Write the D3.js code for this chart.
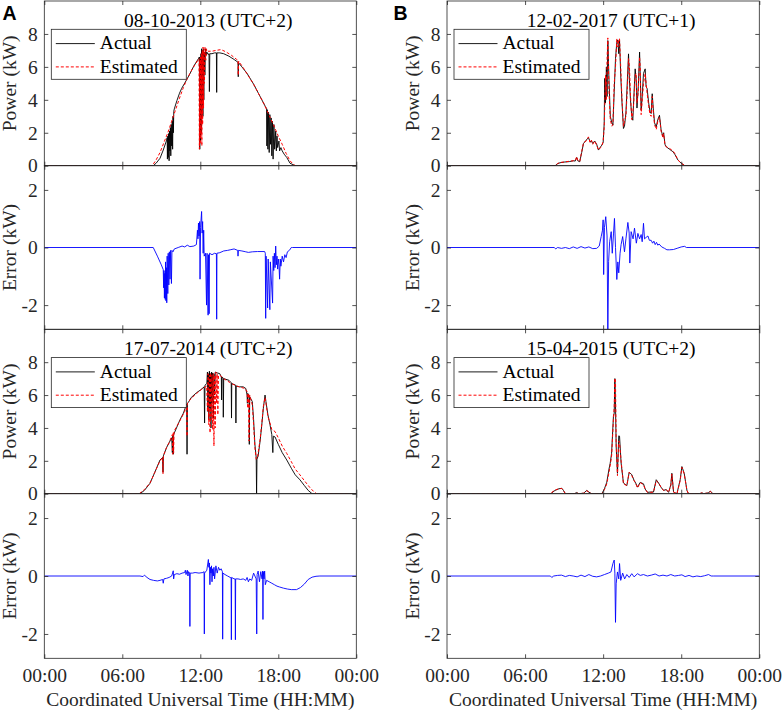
<!DOCTYPE html>
<html><head><meta charset="utf-8">
<script src="https://cdn.jsdelivr.net/npm/d3@7"></script>
<style>body{margin:0;background:#fff}svg{display:block}</style>
</head><body><svg id="c" width="782" height="711"></svg>
<script>
// ---------- data ----------
const timeTicks=[0,6,12,18,24];
const timeTickLabels=["00:00","06:00","12:00","18:00","00:00"];
const powerTicks=[0,2,4,6,8];
const errorTicks=[-2,0,2];
const titles=["08-10-2013 (UTC+2)","17-07-2014 (UTC+2)","12-02-2017 (UTC+1)","15-04-2015 (UTC+2)"];
const panelLetters=["A","B"];
const legendLabels=["Actual","Estimated"];
const xLabel="Coordinated Universal Time (HH:MM)";
const powerLabel="Power (kW)";
const errorLabel="Error (kW)";

// [hour, kW]
const actualA1=[[0,0],[8.38,0],[8.6,0.15],[8.9,0.45],[9.15,0.95],[9.41,1.55],[9.45,1.7],[9.47,0.4],[9.5,1.8],[9.53,0.5],[9.56,1.95],[9.6,0.3],[9.63,2.1],[9.66,0.9],[9.7,2.3],[9.73,0.6],[9.76,2.5],[9.8,1.2],[9.84,2.7],[9.87,1.0],[9.9,3.0],[9.93,2.0],[9.96,3.3],[10.0,3.45],[10.2,3.95],[10.4,4.4],[10.57,4.7],[10.9,5.15],[11.2,5.58],[11.5,6.05],[11.85,6.49],[11.93,6.6],[11.96,1.0],[11.99,6.6],[12.02,1.5],[12.05,6.8],[12.08,2.0],[12.1,7.1],[12.13,3.5],[12.16,7.0],[12.2,3.0],[12.23,7.1],[12.27,4.0],[12.3,6.9],[12.35,5.5],[12.4,7.1],[12.45,6.7],[12.5,6.9],[12.6,6.75],[12.67,6.8],[12.7,4.5],[12.73,6.8],[12.9,6.8],[13.1,6.85],[13.24,6.85],[13.26,4.45],[13.28,6.85],[13.5,6.85],[13.8,6.8],[14.2,6.65],[14.6,6.45],[14.9,6.28],[14.92,5.4],[14.94,6.25],[15.2,6.0],[15.6,5.6],[16.1,4.95],[16.5,4.35],[17.0,3.6],[17.1,3.47],[17.12,1.2],[17.15,3.4],[17.2,1.0],[17.25,3.25],[17.3,0.8],[17.35,3.1],[17.4,1.3],[17.45,2.9],[17.5,0.6],[17.55,2.7],[17.6,0.4],[17.66,2.5],[17.72,1.0],[17.8,2.1],[17.85,0.9],[17.9,1.8],[17.95,1.1],[18.05,1.5],[18.1,0.9],[18.2,1.1],[18.3,0.9],[18.45,0.7],[18.65,0.5],[18.9,0.15],[19.3,0],[24,0]];
const estA1=[[0,0],[8.3,0],[8.6,0.35],[8.9,0.8],[9.2,1.4],[9.5,2.0],[9.8,2.7],[10.1,3.4],[10.4,4.1],[10.7,4.75],[11.0,5.3],[11.3,5.75],[11.6,6.15],[11.9,6.5],[11.93,1.0],[11.96,6.4],[11.99,1.3],[12.02,6.6],[12.05,1.8],[12.08,6.8],[12.12,1.2],[12.15,7.0],[12.18,2.5],[12.21,7.2],[12.25,3.5],[12.28,7.1],[12.32,5.0],[12.36,7.2],[12.42,6.4],[12.48,7.1],[12.6,6.95],[12.9,6.95],[13.2,7.0],[13.6,7.05],[14.0,6.9],[14.4,6.7],[14.8,6.45],[14.9,6.4],[14.92,5.5],[14.95,6.35],[15.3,5.95],[15.7,5.45],[16.1,4.95],[16.5,4.35],[16.9,3.75],[17.3,3.05],[17.7,2.35],[18.0,1.8],[18.3,1.3],[18.6,0.75],[18.9,0.3],[19.2,0.05],[19.35,0],[24,0]];
const errA1=[[0,0],[8.38,0],[8.7,-0.3],[9.0,-0.6],[9.15,-0.77],[9.18,-1.4],[9.21,-0.8],[9.24,-1.75],[9.27,-0.9],[9.3,-1.8],[9.33,-0.5],[9.36,-1.85],[9.39,-0.7],[9.42,-1.92],[9.45,-0.3],[9.5,-1.6],[9.53,-0.2],[9.58,-1.3],[9.62,-0.15],[9.67,-1.1],[9.72,-0.1],[9.78,-1.25],[9.82,-0.1],[9.9,-0.15],[10.0,-0.05],[10.3,0.0],[10.6,0.05],[10.8,0.02],[11.0,0.08],[11.2,0.03],[11.5,0.05],[11.7,0.1],[11.78,0.6],[11.82,0.3],[11.86,0.85],[11.9,0.4],[11.95,0.9],[11.98,-1.1],[12.02,0.7],[12.1,1.25],[12.14,0.5],[12.18,0.9],[12.22,-0.2],[12.26,0.6],[12.3,-0.3],[12.4,-0.2],[12.48,-2.0],[12.52,-0.2],[12.6,-2.35],[12.63,-0.25],[12.68,-2.3],[12.71,-0.2],[12.9,-0.25],[13.1,-0.2],[13.24,-0.22],[13.26,-2.49],[13.28,-0.2],[13.5,-0.18],[13.8,-0.12],[14.1,-0.1],[14.3,-0.08],[14.6,-0.05],[14.88,-0.1],[14.9,-0.3],[14.93,-0.1],[15.2,-0.12],[15.5,-0.15],[15.7,-0.17],[16.0,-0.15],[16.4,-0.14],[16.95,-0.14],[17.0,-0.2],[17.03,-2.46],[17.06,-0.3],[17.18,-2.1],[17.22,-0.4],[17.35,-2.16],[17.39,-0.5],[17.56,-1.93],[17.6,-0.3],[17.65,-0.8],[17.7,-0.2],[17.75,-0.7],[17.8,0.05],[17.85,-0.6],[17.9,-0.3],[17.95,-0.75],[18.0,-0.4],[18.05,-0.6],[18.1,-1.1],[18.15,-0.4],[18.2,-0.65],[18.3,-0.3],[18.4,-0.5],[18.5,-0.25],[18.6,-0.35],[18.7,-0.15],[18.85,-0.1],[19.0,0.0],[19.1,0],[24,0]];

const actualA2=[[0,0],[7.36,0],[7.7,0.2],[8.13,0.63],[8.5,1.3],[8.9,2.05],[9.1,2.2],[9.13,1.3],[9.16,2.3],[9.4,2.8],[9.6,3.1],[9.8,3.4],[9.85,2.5],[9.88,3.5],[9.92,2.4],[9.95,3.6],[10.44,4.5],[10.7,4.9],[10.95,5.45],[10.98,2.4],[11.01,5.5],[11.08,5.55],[11.3,5.85],[11.72,6.15],[12.0,6.3],[12.3,6.5],[12.33,4.3],[12.36,6.6],[12.5,6.7],[12.55,7.4],[12.58,5.0],[12.62,7.3],[12.66,4.5],[12.7,7.45],[12.74,5.2],[12.78,7.3],[12.82,4.0],[12.86,7.4],[12.9,5.5],[12.95,7.35],[13.0,4.6],[13.05,7.3],[13.1,6.0],[13.15,7.4],[13.3,7.35],[13.5,7.3],[13.62,7.1],[13.64,5.7],[13.66,7.1],[13.75,7.05],[13.77,4.65],[13.8,7.0],[14.2,6.9],[14.38,6.75],[14.4,4.6],[14.42,6.7],[14.72,6.6],[14.74,4.3],[14.76,6.55],[15.0,6.5],[15.3,6.5],[15.5,6.4],[15.6,6.0],[15.62,5.5],[15.65,6.1],[15.75,6.0],[15.77,3.0],[15.8,5.9],[16.0,5.6],[16.1,4.5],[16.2,3.0],[16.3,2.2],[16.33,0.0],[16.36,2.1],[16.45,2.3],[16.6,3.2],[16.72,4.1],[16.85,5.2],[16.98,6.0],[17.05,5.6],[17.2,4.8],[17.36,4.2],[17.5,3.6],[17.58,2.5],[17.62,3.5],[17.75,3.45],[18.0,3.0],[18.3,2.5],[18.65,2.05],[19.0,1.55],[19.3,1.15],[19.67,0.84],[20.0,0.5],[20.3,0.2],[20.6,0],[24,0]];
const estA2=[[0,0],[7.3,0],[7.7,0.25],[8.13,0.65],[8.5,1.3],[8.9,2.0],[9.1,2.2],[9.13,1.2],[9.16,2.3],[9.4,2.8],[9.6,3.1],[9.85,3.6],[9.88,2.4],[9.92,3.7],[9.95,2.5],[9.98,3.8],[10.44,4.45],[10.8,5.0],[10.95,5.4],[10.98,3.5],[11.01,5.5],[11.3,5.8],[11.72,6.1],[12.1,6.35],[12.49,6.55],[12.55,5.0],[12.6,7.3],[12.65,4.2],[12.7,7.2],[12.75,3.7],[12.8,7.35],[12.85,4.5],[12.9,7.2],[12.95,3.9],[13.0,7.3],[13.05,2.9],[13.1,7.2],[13.15,4.0],[13.2,7.4],[13.25,5.5],[13.3,7.3],[13.35,4.8],[13.4,7.2],[13.52,7.2],[13.8,7.0],[14.1,6.85],[14.4,6.7],[14.8,6.55],[15.2,6.45],[15.44,6.4],[15.6,6.2],[15.65,5.2],[15.7,6.1],[15.75,3.2],[15.8,6.0],[16.0,5.4],[16.1,4.2],[16.2,2.8],[16.3,2.1],[16.4,2.2],[16.6,3.3],[16.72,4.2],[16.85,5.3],[16.98,5.85],[17.05,5.5],[17.2,4.7],[17.36,4.3],[17.5,3.9],[17.75,3.78],[18.0,3.4],[18.3,2.9],[18.65,2.45],[19.0,1.95],[19.3,1.5],[19.67,1.14],[20.0,0.8],[20.4,0.4],[20.7,0.15],[20.95,0],[24,0]];
const errA2=[[0,0],[7.36,0],[7.6,-0.02],[7.7,0.03],[7.9,-0.05],[8.13,-0.12],[8.4,-0.15],[8.7,-0.17],[8.9,-0.15],[9.1,-0.12],[9.15,-0.25],[9.2,-0.1],[9.4,-0.08],[9.6,-0.05],[9.8,0.0],[9.92,0.18],[9.95,-0.1],[10.0,0.05],[10.2,0.08],[10.4,0.06],[10.6,0.1],[10.8,0.12],[10.85,0.2],[10.9,0.05],[11.0,0.2],[11.05,0.0],[11.1,0.15],[11.18,0.1],[11.2,-1.74],[11.22,0.1],[11.4,0.1],[11.6,0.12],[11.9,0.1],[12.2,0.12],[12.29,0.15],[12.31,-2.0],[12.33,0.1],[12.5,0.2],[12.62,0.57],[12.66,0.3],[12.7,0.45],[12.74,-0.3],[12.78,0.3],[12.82,0.1],[12.86,0.35],[12.9,-0.2],[12.95,0.25],[13.0,0.0],[13.05,0.3],[13.1,-0.1],[13.2,0.35],[13.3,0.1],[13.4,0.3],[13.5,0.2],[13.6,0.25],[13.7,0.15],[13.72,-2.18],[13.74,0.1],[13.9,0.05],[14.1,0.0],[14.3,-0.05],[14.37,-0.06],[14.39,-2.2],[14.41,-0.05],[14.6,-0.1],[14.68,-0.1],[14.7,-2.2],[14.72,-0.1],[14.9,-0.1],[15.1,-0.12],[15.3,-0.1],[15.5,-0.15],[15.6,-0.05],[15.7,-0.2],[15.8,-0.1],[15.95,-0.15],[16.1,0.1],[16.3,-0.1],[16.34,-2.0],[16.37,0.05],[16.45,0.17],[16.55,-0.2],[16.65,0.15],[16.75,-0.1],[16.8,0.17],[16.82,-1.5],[16.84,0.15],[16.9,-0.1],[16.95,0.17],[17.0,-0.3],[17.1,-0.15],[17.3,-0.2],[17.5,-0.25],[17.7,-0.3],[17.9,-0.35],[18.1,-0.38],[18.4,-0.42],[18.7,-0.45],[19.0,-0.47],[19.4,-0.47],[19.7,-0.4],[20.0,-0.28],[20.3,-0.12],[20.6,-0.04],[20.9,-0.01],[21.2,0],[24,0]];

const actualB1=[[0,0],[8.31,0],[8.5,0.12],[8.69,0.18],[9.0,0.22],[9.4,0.25],[9.72,0.3],[9.85,0.28],[9.97,0.5],[10.05,0.3],[10.2,0.24],[10.35,0.8],[10.49,1.35],[10.7,1.55],[10.87,1.71],[11.0,1.45],[11.1,1.5],[11.2,1.35],[11.35,1.5],[11.5,1.3],[11.64,0.95],[11.8,1.15],[11.9,1.25],[12.0,1.4],[12.08,2.56],[12.12,5.3],[12.18,3.8],[12.25,6.0],[12.3,4.2],[12.36,7.6],[12.45,5.2],[12.55,3.0],[12.67,2.6],[12.75,2.46],[12.85,4.5],[12.95,6.5],[13.05,7.5],[13.13,7.64],[13.2,6.8],[13.26,7.6],[13.35,5.5],[13.45,3.8],[13.56,2.26],[13.64,2.4],[13.75,3.2],[13.85,5.0],[13.95,6.79],[14.02,5.2],[14.1,4.0],[14.2,3.0],[14.28,2.76],[14.35,4.0],[14.46,5.88],[14.54,5.2],[14.6,3.5],[14.7,4.8],[14.8,6.9],[14.85,5.5],[14.92,3.37],[15.0,4.2],[15.1,5.6],[15.23,5.88],[15.3,4.8],[15.38,4.68],[15.5,3.8],[15.6,3.3],[15.69,3.17],[15.77,4.37],[15.85,3.5],[15.95,2.6],[16.08,2.36],[16.2,2.8],[16.33,3.06],[16.45,2.2],[16.59,1.75],[16.65,2.0],[16.75,1.3],[16.85,1.15],[17.1,1.0],[17.36,0.85],[17.5,0.7],[17.75,0.34],[18.0,0.15],[18.26,0],[24,0]];
const estB1=[[0,0],[8.28,0],[8.5,0.13],[8.69,0.2],[9.0,0.22],[9.4,0.27],[9.72,0.3],[9.85,0.3],[9.97,0.55],[10.05,0.32],[10.2,0.25],[10.35,0.85],[10.49,1.4],[10.7,1.5],[10.87,1.75],[11.0,1.4],[11.1,1.55],[11.2,1.3],[11.35,1.5],[11.5,1.25],[11.64,0.95],[11.8,1.1],[11.9,1.2],[12.0,1.5],[12.08,2.3],[12.12,3.5],[12.18,5.5],[12.25,4.0],[12.3,6.5],[12.36,7.76],[12.45,4.5],[12.55,2.8],[12.67,2.4],[12.75,2.5],[12.85,5.0],[12.95,6.0],[13.05,7.7],[13.13,7.2],[13.2,7.7],[13.26,7.7],[13.35,6.0],[13.45,4.0],[13.56,2.4],[13.64,2.7],[13.75,3.0],[13.85,4.5],[13.95,6.5],[14.02,6.0],[14.1,4.3],[14.2,2.8],[14.28,3.2],[14.35,3.8],[14.46,5.5],[14.54,5.6],[14.6,3.8],[14.7,4.5],[14.8,6.6],[14.85,6.0],[14.92,3.1],[15.0,3.9],[15.1,5.0],[15.23,5.6],[15.3,5.0],[15.38,4.4],[15.5,3.6],[15.6,3.1],[15.69,3.0],[15.77,4.2],[15.85,3.3],[15.95,2.5],[16.08,2.2],[16.2,2.7],[16.33,2.95],[16.45,2.1],[16.59,1.7],[16.65,1.95],[16.75,1.25],[16.85,1.15],[17.1,1.05],[17.36,0.9],[17.5,0.75],[17.75,0.35],[18.0,0.15],[18.3,0],[24,0]];
const errB1=[[0,0],[8.25,0],[8.35,-0.05],[8.5,0.0],[8.8,-0.03],[9.1,0.0],[9.4,-0.04],[9.7,0.02],[10.0,-0.03],[10.3,0.03],[10.6,-0.02],[10.9,0.02],[11.2,-0.04],[11.5,-0.03],[11.7,0.05],[11.85,0.38],[11.95,0.6],[12.0,0.96],[12.04,-0.94],[12.1,0.7],[12.2,1.07],[12.3,0.4],[12.36,-2.95],[12.42,-0.48],[12.5,0.2],[12.62,0.55],[12.7,-0.2],[12.8,0.5],[12.87,1.01],[12.95,0.0],[13.05,-1.11],[13.13,-0.5],[13.2,-0.88],[13.3,-0.2],[13.38,0.1],[13.5,0.38],[13.64,-0.15],[13.75,0.3],[13.9,0.87],[14.0,0.5],[14.05,-0.54],[14.15,0.55],[14.3,0.3],[14.41,0.67],[14.55,0.15],[14.67,0.49],[14.8,0.3],[14.92,0.45],[15.0,0.2],[15.1,0.84],[15.18,0.3],[15.3,0.35],[15.44,0.4],[15.55,0.25],[15.69,0.25],[15.8,0.15],[15.9,0.22],[16.0,0.1],[16.1,0.18],[16.2,0.08],[16.3,0.12],[16.5,0.02],[16.72,-0.03],[16.9,-0.08],[17.1,-0.08],[17.4,-0.07],[17.74,-0.02],[18.0,0.02],[18.26,0.04],[18.4,0.0],[24,0]];

const actualB2=[[0,0],[8.0,0],[8.05,0.05],[8.3,0.2],[8.6,0.3],[8.82,0.33],[8.95,0.2],[9.08,0.02],[9.2,0],[9.8,0],[9.97,0.07],[10.1,0],[10.5,0.03],[10.74,0.2],[10.9,0.1],[11.1,0],[11.9,0],[12.1,0.3],[12.28,0.7],[12.45,1.5],[12.54,1.85],[12.65,2.46],[12.79,4.7],[12.85,4.9],[12.9,7.0],[12.95,5.4],[13.0,2.87],[13.1,1.24],[13.2,3.52],[13.26,3.5],[13.38,1.87],[13.56,0.65],[13.82,0.49],[14.0,1.3],[14.2,1.16],[14.38,0.8],[14.5,0.65],[14.64,0.4],[14.85,0.69],[15.1,0.6],[15.23,0.28],[15.41,0.08],[15.62,0.1],[15.87,0.1],[16.08,0.85],[16.26,0.65],[16.44,0.4],[16.64,0.2],[16.85,0.25],[17.03,0.08],[17.2,0.55],[17.28,1.24],[17.41,0.1],[17.67,0.0],[17.92,0.85],[18.05,1.65],[18.23,1.24],[18.44,0.2],[18.56,0],[19.4,0],[19.6,0.05],[19.7,0],[20.1,0.05],[20.23,0.16],[20.44,0],[24,0]];
const estB2=[[0,0],[8.0,0],[8.05,0.08],[8.3,0.22],[8.6,0.3],[8.82,0.32],[8.95,0.18],[9.08,0.02],[9.2,0],[9.8,0],[9.97,0.07],[10.1,0],[10.5,0.03],[10.74,0.18],[10.9,0.1],[11.1,0],[11.9,0],[12.1,0.25],[12.28,0.6],[12.45,1.3],[12.54,1.7],[12.65,2.3],[12.79,4.5],[12.85,5.3],[12.9,7.03],[12.95,6.8],[13.0,3.1],[13.1,1.1],[13.2,3.2],[13.26,3.1],[13.38,2.0],[13.56,0.6],[13.82,0.5],[14.0,1.3],[14.2,1.1],[14.38,0.8],[14.5,0.62],[14.64,0.35],[14.85,0.67],[15.1,0.55],[15.23,0.28],[15.41,0.08],[15.62,0.08],[15.87,0.1],[16.08,0.78],[16.26,0.65],[16.44,0.4],[16.64,0.2],[16.85,0.25],[17.03,0.08],[17.2,0.5],[17.28,1.2],[17.41,0.1],[17.67,0.0],[17.92,0.8],[18.05,1.6],[18.23,1.2],[18.44,0.2],[18.56,0],[19.4,0],[19.6,0.05],[19.7,0],[20.1,0.05],[20.23,0.14],[20.44,0],[24,0]];
const errB2=[[0,0],[7.95,0],[8.05,-0.05],[8.2,0.0],[8.5,0.02],[8.8,0.03],[9.1,-0.02],[9.4,0.02],[9.7,0.0],[10.0,-0.03],[10.3,0.03],[10.6,-0.02],[10.9,0.05],[11.2,-0.01],[11.5,-0.03],[11.8,0.0],[12.1,0.05],[12.4,0.1],[12.6,0.14],[12.75,0.43],[12.85,0.55],[12.9,0.1],[12.95,-1.6],[13.0,-0.27],[13.1,0.14],[13.2,-0.1],[13.26,0.43],[13.35,-0.15],[13.5,0.1],[13.65,-0.1],[13.82,0.05],[14.0,-0.05],[14.2,0.08],[14.38,-0.03],[14.64,0.08],[14.85,0.02],[15.1,0.05],[15.4,0.0],[15.7,0.03],[16.0,0.07],[16.3,0.0],[16.6,0.03],[16.9,0.0],[17.2,0.05],[17.5,0.0],[17.8,0.02],[18.05,0.04],[18.3,-0.02],[18.6,0.02],[18.9,-0.03],[19.2,0.0],[19.5,-0.02],[19.8,0.01],[20.1,0.05],[20.3,0.0],[20.5,0],[24,0]];

// ---------- layout ----------
const FONT='"Liberation Serif","Times New Roman",serif';
const FS=19.5;
const AX='#262626';
const cols=[{l:44.3,r:356.3},{l:447,r:759.3}];
const rows=[{pt:1,pb:165.7,eb:329.3},{pt:329.3,pb:493.7,eb:658.3}];
const panels=[
 {c:0,r:0,title:titles[0],act:actualA1,est:estA1,err:errA1},
 {c:0,r:1,title:titles[1],act:actualA2,est:estA2,err:errA2},
 {c:1,r:0,title:titles[2],act:actualB1,est:estB1,err:errB1},
 {c:1,r:1,title:titles[3],act:actualB2,est:estB2,err:errB2}
];

const svg=d3.select('#c');
svg.append('rect').attr('width',782).attr('height',711).attr('fill','#fff');
const defs=svg.append('defs');
let clipId=0;

function box(g,x,y){
  const [x0,x1]=x.range(), [y0,y1]=y.range();
  g.append('rect').attr('x',x0).attr('y',y1).attr('width',x1-x0).attr('height',y0-y1)
   .attr('fill','none').attr('stroke',AX).attr('stroke-width',0.8);
}
function axes(g,x,y,yTicks,showX){
  const [x0,x1]=x.range(), [y0,y1]=y.range();
  const bottom=g.append('g').attr('transform',`translate(0,${y0})`)
    .call(d3.axisBottom(x).tickValues(timeTicks).tickSizeInner(-4).tickSizeOuter(0).tickPadding(9.4)
      .tickFormat((d,i)=>showX?timeTickLabels[i]:''));
  const top=g.append('g').attr('transform',`translate(0,${y1})`)
    .call(d3.axisTop(x).tickValues(timeTicks).tickSizeInner(-4).tickSizeOuter(0).tickFormat(''));
  const left=g.append('g').attr('transform',`translate(${x0},0)`)
    .call(d3.axisLeft(y).tickValues(yTicks).tickSizeInner(-4).tickSizeOuter(0).tickPadding(6.5).tickFormat(d3.format('d')));
  const right=g.append('g').attr('transform',`translate(${x1},0)`)
    .call(d3.axisRight(y).tickValues(yTicks).tickSizeInner(-4).tickSizeOuter(0).tickFormat(''));
  [bottom,top,left,right].forEach(a=>{
    a.select('.domain').remove();
    a.selectAll('line').attr('stroke',AX).attr('stroke-width',0.8);
    a.selectAll('text').attr('fill',AX).style('font-family',FONT).style('font-size',FS+'px');
  });
  left.selectAll('text').text(d=>d<0?'-'+Math.abs(d):d);
}
function clipFor(x,y){
  const id='clip'+(clipId++);
  const [x0,x1]=x.range(), [y0,y1]=y.range();
  defs.append('clipPath').attr('id',id).append('rect').attr('x',x0).attr('y',y1).attr('width',x1-x0).attr('height',y0-y1);
  return `url(#${id})`;
}

panels.forEach(p=>{
  const C=cols[p.c], R=rows[p.r];
  const x=d3.scaleLinear().domain([0,24]).range([C.l,C.r]);
  const yP=d3.scaleLinear().domain([0,10]).range([R.pb,R.pt]);
  const yE=d3.scaleLinear().domain([-2.84,2.84]).range([R.eb,R.pb]);
  const g=svg.append('g');

  // power subplot
  const lp=d3.line().x(d=>x(d[0])).y(d=>yP(d[1]));
  const gp=g.append('g').attr('clip-path',clipFor(x,yP));
  gp.append('path').datum(p.act).attr('d',lp).attr('fill','none').attr('stroke','#000').attr('stroke-width',0.9).attr('stroke-linejoin','round');
  gp.append('path').datum(p.est).attr('d',lp).attr('fill','none').attr('stroke','#ff0000').attr('stroke-width',1).attr('stroke-dasharray','3,2');
  axes(g,x,yP,powerTicks,false);
  box(g,x,yP);

  // error subplot
  const le=d3.line().x(d=>x(d[0])).y(d=>yE(d[1]));
  const ge=g.append('g').attr('clip-path',clipFor(x,yE));
  ge.append('path').datum(p.err).attr('d',le).attr('fill','none').attr('stroke','#0000ff').attr('stroke-width',0.9).attr('stroke-linejoin','round');
  axes(g,x,yE,errorTicks,p.r===1);
  box(g,x,yE);

  // title
  g.append('text').attr('x',(C.l+C.r)/2+8).attr('y',R.pt+25.5).attr('text-anchor','middle')
   .attr('fill','#000').style('font-family',FONT).style('font-size',FS+'px').text(p.title);

  // legend
  const lx=C.l+7, ly=R.pt+28.3, lw=135, lh=50;
  const lg=g.append('g');
  lg.append('rect').attr('x',lx).attr('y',ly).attr('width',lw).attr('height',lh).attr('fill','#fff').attr('stroke',AX).attr('stroke-width',0.8);
  const rowsY=[14.3,37.6];
  const styles=[{s:'#000',d:null,w:0.9},{s:'#ff0000',d:'3,2',w:1}];
  legendLabels.forEach((t,i)=>{
    lg.append('line').attr('x1',lx+4.5).attr('x2',lx+43.5).attr('y1',ly+rowsY[i]).attr('y2',ly+rowsY[i])
      .attr('stroke',styles[i].s).attr('stroke-width',styles[i].w).attr('stroke-dasharray',styles[i].d);
    lg.append('text').attr('x',lx+48.5).attr('y',ly+rowsY[i]+5.8).attr('fill','#000')
      .style('font-family',FONT).style('font-size',FS+'px').text(t);
  });

  // y labels
  const yl=C.l-28.5;
  g.append('text').attr('transform',`translate(${yl},${(R.pt+R.pb)/2}) rotate(-90)`).attr('text-anchor','middle')
   .attr('fill',AX).style('font-family',FONT).style('font-size',FS+'px').text(powerLabel);
  g.append('text').attr('transform',`translate(${yl},${(R.pb+R.eb)/2}) rotate(-90)`).attr('text-anchor','middle')
   .attr('fill',AX).style('font-family',FONT).style('font-size',FS+'px').text(errorLabel);

  if(p.r===1){
    g.append('text').attr('x',(C.l+C.r)/2).attr('y',706).attr('text-anchor','middle')
     .attr('fill',AX).style('font-family',FONT).style('font-size',FS+'px').text(xLabel);
  }
});

// panel letters
panelLetters.forEach((t,i)=>{
  svg.append('text').attr('x',i===0?2.5:393.5).attr('y',20).attr('fill','#000')
   .style('font-family','"Liberation Sans",Arial,sans-serif').style('font-weight','bold').style('font-size','19.5px').text(t);
});
</script></body></html>
